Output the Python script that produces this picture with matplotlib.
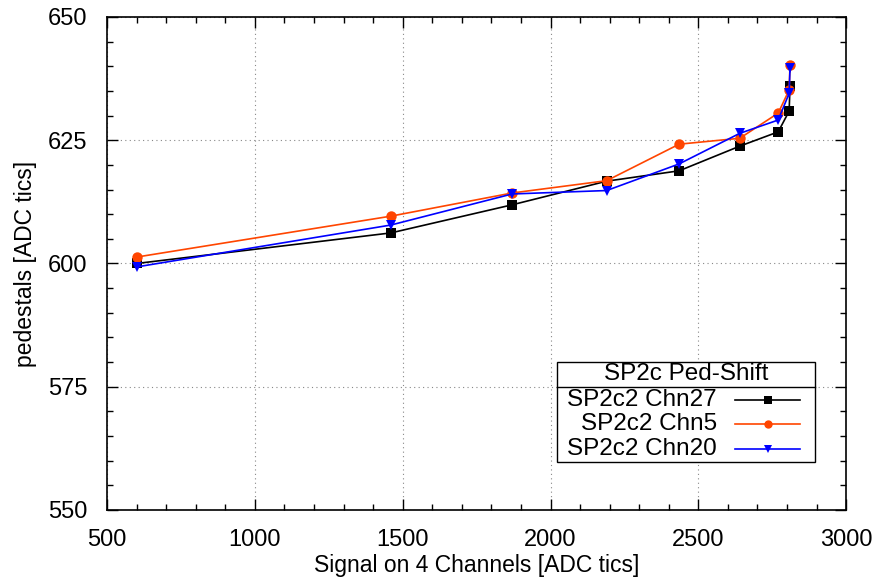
import matplotlib
matplotlib.use("Agg")
import matplotlib.pyplot as plt
from matplotlib.patches import Rectangle
from matplotlib.lines import Line2D
from matplotlib.ticker import MultipleLocator

plt.rcParams['font.family'] = ['Liberation Sans', 'DejaVu Sans']

signal = [600, 1460, 1870, 2190, 2435, 2640, 2770, 2807, 2810]
chn27 = [600.0, 606.2, 611.9, 616.7, 618.8, 623.8, 626.7, 630.9, 636.0]
chn5 = [601.3, 609.6, 614.3, 616.8, 624.2, 625.4, 630.5, 635.2, 640.3]
chn20 = [599.3, 607.8, 614.1, 614.8, 620.2, 626.4, 629.1, 634.5, 639.6]

series_labels = ["SP2c2 Chn27", "SP2c2 Chn5", "SP2c2 Chn20"]
legend_title = "SP2c Ped-Shift"
colors = ["#000000", "#FF4500", "#0000FF"]
markers = ["s", "o", "v"]

fig = plt.figure(figsize=(8.87, 5.8), dpi=100)
ax = fig.add_axes([0.1206, 0.1207, 0.8334, 0.85])

for ys, c, m in zip([chn27, chn5, chn20], colors, markers):
    ax.plot(signal, ys, color=c, marker=m, markersize=7.5, lw=1.2,
            markeredgewidth=0, zorder=3)

ax.set_xlim(500, 3000)
ax.set_ylim(550, 650)
ax.xaxis.set_major_locator(MultipleLocator(500))
ax.xaxis.set_minor_locator(MultipleLocator(100))
ax.yaxis.set_major_locator(MultipleLocator(25))
ax.yaxis.set_minor_locator(MultipleLocator(5))
ax.tick_params(which='both', direction='in', top=True, right=True, labelsize=17)
ax.tick_params(which='major', length=8, width=1)
ax.tick_params(which='minor', length=4, width=1)
ax.tick_params(axis='x', pad=14)
ax.tick_params(axis='y', pad=14)
ax.grid(True, which='major', linestyle=(0, (1, 3)), color='#888888', lw=0.8)
for s in ax.spines.values():
    s.set_linewidth(1.2)

ax.set_xlabel("Signal on 4 Channels [ADC tics]", fontsize=16.5, labelpad=2)
ax.set_ylabel("pedestals [ADC tics]", fontsize=16.5, labelpad=8)

# legend box (manual, gnuplot style)
x0, x1 = 0.609, 0.958
y0, y1 = 0.097, 0.300
ysep = 0.249
ax.add_patch(Rectangle((x0, y0), x1 - x0, y1 - y0, transform=ax.transAxes,
                       facecolor='white', edgecolor='black', lw=1, zorder=5))
ax.add_line(Line2D([x0, x1], [ysep, ysep], transform=ax.transAxes,
                   color='black', lw=1, zorder=6))
ax.text((x0 + x1) / 2, 0.275, legend_title, transform=ax.transAxes,
        ha='center', va='center', fontsize=17.5, zorder=7)
rows = [0.224, 0.174, 0.124]
for lab, c, m, yr in zip(series_labels, colors, markers, rows):
    ax.text(0.825, yr, lab, transform=ax.transAxes, ha='right', va='center',
            fontsize=17.5, zorder=7)
    ax.add_line(Line2D([0.850, 0.938], [yr, yr], transform=ax.transAxes,
                       color=c, lw=1.2, zorder=7))
    ax.add_line(Line2D([0.894], [yr], transform=ax.transAxes, color=c,
                       marker=m, markersize=6, markeredgewidth=0, zorder=8))

fig.savefig("out.png", dpi=100)
